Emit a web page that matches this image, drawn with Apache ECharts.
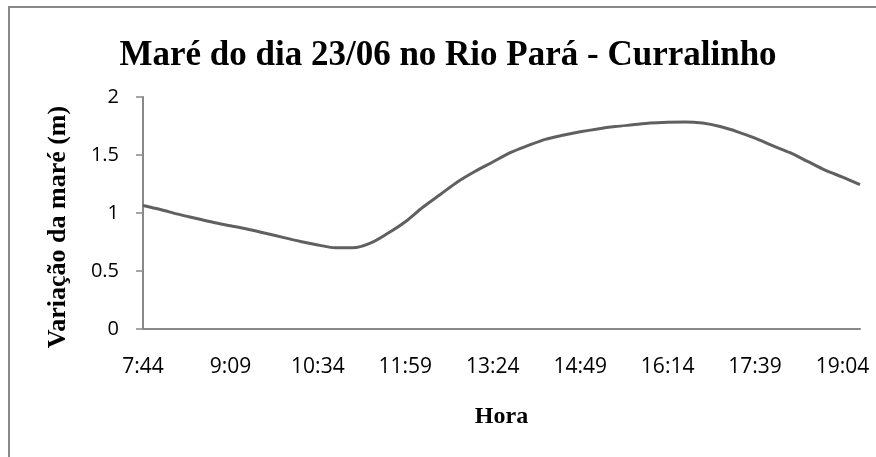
<!DOCTYPE html>
<html>
<head>
    <meta charset="utf-8">
    <script src="https://cdn.jsdelivr.net/npm/echarts@6/dist/echarts.min.js"></script>
    <style>
        html, body { margin: 0; padding: 0; background: #fff; }
    </style>
</head>
<body>
<div id="main" style="width: 876px;height:457px;"></div>
<script type="text/javascript">
    // horas (cada 17 min), rótulos a cada 5 pontos
    var horas = ['7:44','8:01','8:18','8:35','8:52','9:09','9:26','9:43','10:00','10:17',
                 '10:34','10:51','11:08','11:25','11:42','11:59','12:16','12:33','12:50','13:07',
                 '13:24','13:41','13:58','14:15','14:32','14:49','15:06','15:23','15:40','15:57',
                 '16:14','16:31','16:48','17:05','17:22','17:39','17:56','18:13','18:30','18:47',
                 '19:04','19:21'];
    // variação da maré (m)
    var mare = [1.065, 1.03, 0.99, 0.955, 0.92, 0.89, 0.86, 0.825, 0.79, 0.755,
                0.725, 0.70, 0.70, 0.74, 0.825, 0.925, 1.05, 1.16, 1.27, 1.36,
                1.44, 1.52, 1.58, 1.635, 1.67, 1.70, 1.725, 1.745, 1.76, 1.775,
                1.782, 1.785, 1.775, 1.745, 1.70, 1.645, 1.58, 1.52, 1.445, 1.37,
                1.31, 1.245];
    var yTicks = [0, 0.5, 1, 1.5, 2];

    var myChart = echarts.init(document.getElementById('main'));

    var option = {
        backgroundColor: '#fff',
        animation: false,
        title: {
            text: 'Maré do dia 23/06 no Rio Pará - Curralinho',
            left: 443,
            textAlign: 'center',
            top: 33,
            textStyle: {
                fontFamily: 'Liberation Serif',
                fontWeight: 'bold',
                fontSize: 35,
                color: '#000'
            }
        },
        graphic: [{
            type: 'rect',
            shape: { x: 9, y: 7, width: 900, height: 500 },
            style: { fill: 'none', stroke: '#888', lineWidth: 2 },
            silent: true
        }, {
            // título do eixo y
            type: 'text',
            x: 58,
            y: 227,
            rotation: Math.PI / 2,
            style: {
                text: 'Variação da maré (m)',
                fontFamily: 'Liberation Serif',
                fontWeight: 'bold',
                fontSize: 26,
                fill: '#000',
                align: 'center',
                verticalAlign: 'middle'
            },
            silent: true
        }],
        grid: {
            left: 143,
            right: 16,
            top: 97,
            bottom: 128
        },
        xAxis: {
            type: 'category',
            boundaryGap: false,
            data: horas,
            name: 'Hora',
            nameLocation: 'middle',
            nameGap: 76,
            nameTextStyle: {
                fontFamily: 'Liberation Serif',
                fontWeight: 'bold',
                fontSize: 24,
                color: '#000'
            },
            axisLine: { lineStyle: { color: '#888', width: 2 } },
            axisTick: { show: false },
            axisLabel: {
                interval: 4,
                margin: 28,
                fontFamily: 'Open Sans',
                fontSize: 21,
                color: '#000'
            },
            splitLine: { show: false }
        },
        yAxis: {
            type: 'value',
            min: yTicks[0],
            max: yTicks[yTicks.length - 1],
            interval: 0.5,
            axisLine: { show: true, lineStyle: { color: '#888', width: 2 } },
            axisTick: { show: true, inside: false, length: 7, lineStyle: { color: '#888', width: 1.5 } },
            axisLabel: {
                margin: 24,
                fontFamily: 'Open Sans',
                fontSize: 20,
                color: '#000'
            },
            splitLine: { show: false }
        },
        series: [{
            type: 'line',
            data: mare,
            smooth: 0.3,
            symbol: 'none',
            lineStyle: { color: '#606060', width: 3 }
        }]
    };

    myChart.setOption(option);
</script>
</body>
</html>
